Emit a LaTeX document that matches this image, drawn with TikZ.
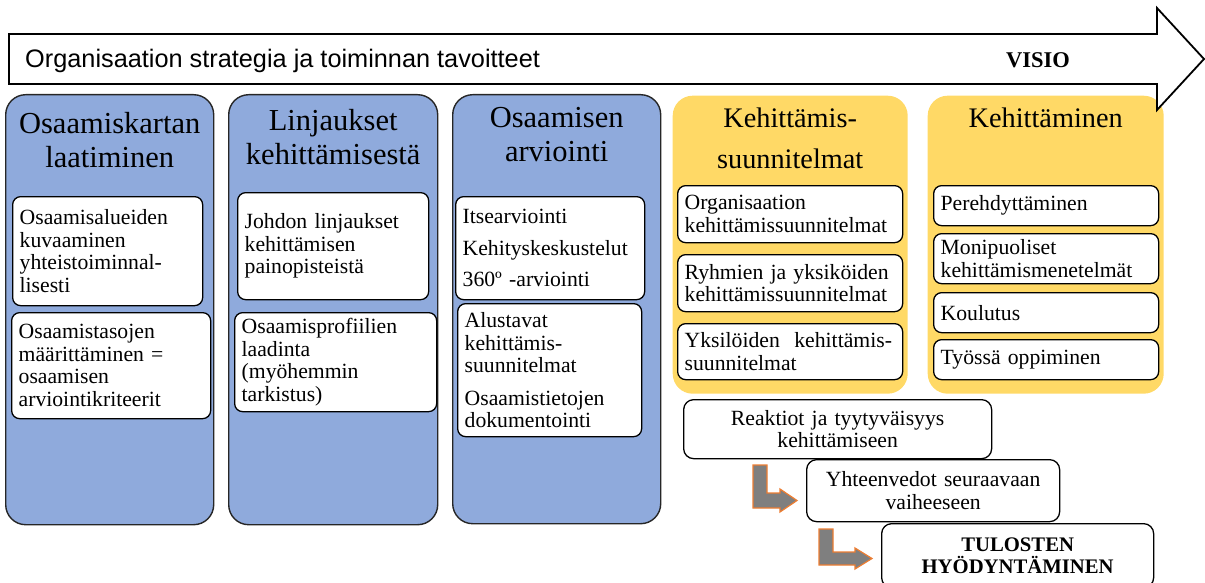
\documentclass[tikz,border=0pt]{standalone}
\usepackage{fontspec}
\setmainfont{Liberation Serif}
\newfontfamily\arialfont{Liberation Sans}
\usetikzlibrary{positioning}
\definecolor{phaseblue}{HTML}{8FAADC}
\definecolor{phaseyellow}{HTML}{FFD966}
\definecolor{turngray}{HTML}{7F7F7F}
\definecolor{turnorange}{HTML}{ED7D31}

\begin{document}
\begin{tikzpicture}[x=1pt, y=-1pt,
	phase/.style={draw=black!85, line width=1.4pt, rounded corners=20pt, fill=phaseblue, anchor=north west, inner sep=0pt},
	goldphase/.style={phase, draw=none, fill=phaseyellow},
	title/.style={anchor=north, align=center, inner sep=0pt, font=\fontsize{30.5}{34}\selectfont},
	goldtitle/.style={title, font=\fontsize{28.3}{41}\selectfont},
	item/.style={draw, line width=1.3pt, rounded corners=8pt, fill=white, anchor=north west, align=left, inner xsep=7pt, inner ysep=0pt, font=\fontsize{21.7}{22.5}\selectfont},
	result/.style={item, align=center, rounded corners=10pt},
	turn/.style={fill=turngray, draw=turnorange, line width=1.2pt}]
	\useasboundingbox (0, 0) rectangle (1205, 583);

	\node [phase, minimum width=208, minimum height=430] (map) at (5, 94) {};
	\node [phase, minimum width=209, minimum height=430] (policy) at (228, 94) {};
	\node [phase, minimum width=208, minimum height=429] (assess) at (452, 94) {};
	\node [goldphase, minimum width=235, minimum height=298] (plans) at (672, 95) {};
	\node [goldphase, minimum width=236, minimum height=298] (develop) at (927, 95) {};

	\draw [line width=1.8pt, fill=white] (9, 34) -- (1157, 34) -- (1157, 8) -- (1204, 59)
	-- (1157, 110) -- (1157, 84) -- (9, 84) -- cycle;
	\node [anchor=base west, inner sep=0pt, font=\arialfont\fontsize{25.3}{28}\selectfont] (strategy) at (25, 68) {Organisaation strategia ja toiminnan tavoitteet};
	\node [anchor=base, inner sep=0pt, font=\bfseries\fontsize{22.5}{24}\selectfont] (vision) at (1038, 68) {VISIO};

	\node [title] (maptitle) at (map.north |- 0, 112) {\vphantom{l}Osaamiskartan\\laatiminen};
	\node [title] (policytitle) at (policy.north |- 0, 109) {\vphantom{l}Linjaukset\\kehittämisestä};
	\node [title] (assesstitle) at (assess.north |- 0, 106) {\vphantom{l}Osaamisen\\arviointi};
	\node [goldtitle] (planstitle) at (plans.north |- 0, 108) {\vphantom{l}Kehittämis-\\suunnitelmat};
	\node [goldtitle] (developtitle) at (develop.north |- 0, 108) {\vphantom{l}Kehittäminen};

	\node [item, text width=176, minimum height=109] (map1) at (12, 196) {Osaamisalueiden\\kuvaaminen\\yhteistoiminnal-\\lisesti};
	\node [item, text width=185, minimum height=106] (map2) at (11, 312) {Osaamistasojen\\määrittäminen =\\osaamisen\\arviointikriteerit};
	\node [item, text width=177, minimum height=107] (policy1) at (237, 192) {Johdon linjaukset\\kehittämisen\\painopisteistä};
	\node [item, text width=188, minimum height=99] (policy2) at (234, 312) {Osaamisprofiilien\\laadinta\\(myöhemmin\\tarkistus)};
	\node [item, text width=175, minimum height=103] (assess1) at (455, 196) {Itsearviointi\\[9pt]Kehityskeskustelut\\[9pt]360º -arviointi};
	\node [item, text width=170, minimum height=133] (assess2) at (457, 303) {Alustavat\\kehittämis-\\suunnitelmat\\[10pt]Osaamistietojen\\dokumentointi};

	\node [item, text width=211, minimum height=57] (plans1) at (677, 185) {Organisaation\\kehittämissuunnitelmat};
	\node [item, text width=211, minimum height=57] (plans2) at (677, 254) {Ryhmien ja yksiköiden\\kehittämissuunnitelmat};
	\node [item, text width=211, minimum height=56] (plans3) at (677, 323) {Yksilöiden\ \ kehittämis-\\suunnitelmat};

	\node [item, text width=211, minimum height=40] (develop1) at (933, 185) {Perehdyttäminen};
	\node [item, text width=211, minimum height=50] (develop2) at (933, 233) {Monipuoliset\\kehittämismenetelmät};
	\node [item, text width=211, minimum height=40] (develop3) at (933, 292) {Koulutus};
	\node [item, text width=211, minimum height=40] (develop4) at (933, 339) {Työssä oppiminen};

	\node [result, text width=294, minimum height=59] (reaction) at (683, 399) {Reaktiot ja tyytyväisyys\\kehittämiseen};
	\node [result, text width=239, minimum height=62] (summary) at (806, 459) {Yhteenvedot seuraavaan\\vaiheeseen};
	\node [result, text width=258, minimum height=64, font=\bfseries\fontsize{20.7}{22}\selectfont] (usage) at (881, 523) {TULOSTEN\\HYÖDYNTÄMINEN};

	\draw [turn] (753, 465) -- (767, 465) -- (767, 493) -- (780, 493) -- (780, 489) -- (797, 500.5)
	-- (780, 512) -- (780, 508) -- (753, 508) -- cycle;
	\draw [turn] (819, 529) -- (833, 529) -- (833, 552) -- (855, 552) -- (855, 548) -- (872, 558.5)
	-- (855, 569) -- (855, 565) -- (819, 565) -- cycle;
\end{tikzpicture}
\end{document}
